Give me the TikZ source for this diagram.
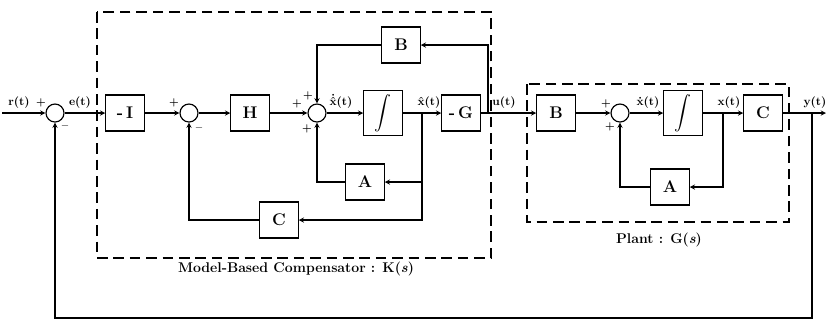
\documentclass[tikz,border=0pt]{standalone}
\usepackage{amsmath}
\usetikzlibrary{shapes,arrows,positioning,calc}

\begin{document}
\begin{tikzpicture}[
    x=0.03cm, y=-0.03cm,
    block/.style={rectangle, draw, line width=1pt, minimum width=1.15cm, minimum height=1.08cm, font=\Large\bfseries},
    sumnode/.style={circle, draw, line width=1pt, minimum size=0.54cm, inner sep=0pt},
    sig/.style={font=\normalsize\bfseries, inner sep=1pt, anchor=south},
    sgn/.style={font=\small\bfseries, inner sep=0.5pt},
    arrow/.style={->, >=stealth, line width=1pt},
    line/.style={line width=1pt},
    frame/.style={draw, line width=1.1pt, dash pattern=on 9pt off 5pt},
    caption/.style={font=\large\bfseries}
]
    \useasboundingbox (0,0) rectangle (826,325);

    % dashed frames
    \draw[frame] (97,12) rectangle (491,258);
    \draw[frame] (527,84) rectangle (789,222);
    \node[caption] (klabel) at (296,269) {Model-Based Compensator : K(\textit{s})};
    \node[caption] (glabel) at (659,240) {Plant : G(\textit{s})};

    % compensator
    \coordinate (in) at (2,113);
    \node[sumnode] (s1) at (55,113) {};
    \node[block] (negI) at (125,113) {-\,I};
    \node[sumnode] (s2) at (189,113) {};
    \node[block] (H) at (250,113) {H};
    \node[sumnode] (s3) at (317,113) {};
    \node[block] (intK) at (383,113) {$\displaystyle\int$};
    \node[block] (negG) at (461,113) {-\,G};
    \node[block] (Bk) at (401,45) {B};
    \node[block] (Ak) at (365,182) {A};
    \node[block] (Ck) at (279,220) {C};
    \coordinate (xk) at (422,113);
    \coordinate (uk) at (488,113);

    % plant
    \node[block] (Bp) at (556,113) {B};
    \node[sumnode] (s4) at (620,113) {};
    \node[block] (intP) at (683,113) {$\displaystyle\int$};
    \node[block] (Cp) at (763,113) {C};
    \node[block] (Ap) at (670,187) {A};
    \coordinate (xp) at (723,113);
    \coordinate (yb) at (812,113);
    \coordinate (out) at (826,113);
    \coordinate (fb) at (812,318);

    % main path
    \draw[arrow] (in) -- (s1);
    \draw[arrow] (s1) -- (negI);
    \draw[arrow] (negI) -- (s2);
    \draw[arrow] (s2) -- (H);
    \draw[arrow] (H) -- (s3);
    \draw[arrow] (s3) -- (intK);
    \draw[arrow] (intK) -- (negG);
    \draw[arrow] (negG) -- (Bp);
    \draw[arrow] (Bp) -- (s4);
    \draw[arrow] (s4) -- (intP);
    \draw[arrow] (intP) -- (Cp);
    \draw[arrow] (Cp) -- (out);

    % inner loops
    \draw[arrow] (xk) |- (Ck);
    \draw[arrow] (xk |- Ak) -- (Ak);
    \draw[arrow] (Ck) -| (s2);
    \draw[arrow] (Ak) -| (s3);
    \draw[arrow] (uk) |- (Bk);
    \draw[arrow] (Bk) -| (s3);
    \draw[arrow] (xp) |- (Ap);
    \draw[arrow] (Ap) -| (s4);

    % outer feedback
    \draw[arrow] (yb) -- (fb) -| (s1);

    % signal labels
    \node[sig] (rlab) at (19,110) {r(t)};
    \node[sig] (elab) at (80,110) {e(t)};
    \node[sig] (xdkl) at (341,110) {$\mathbf{\dot{\hat{x}}}$(t)};
    \node[sig] (xkl) at (429,110) {$\mathbf{\hat{x}}$(t)};
    \node[sig] (ulab) at (504,110) {u(t)};
    \node[sig] (xdpl) at (648,110) {$\mathbf{\dot{x}}$(t)};
    \node[sig] (xpl) at (729,110) {x(t)};
    \node[sig] (ylab) at (815,110) {y(t)};

    % signs
    \node[sgn] (p1) at (41,103) {+};
    \node[sgn] (m1) at (65,126) {$-$};
    \node[sgn] (p2) at (174,103) {+};
    \node[sgn] (m2) at (199,128) {$-$};
    \node[sgn] (p3a) at (297,104) {+};
    \node[sgn] (p3b) at (308,96) {+};
    \node[sgn] (p3c) at (307,129) {+};
    \node[sgn] (p4a) at (606,104) {+};
    \node[sgn] (p4b) at (610,127) {+};
\end{tikzpicture}
\end{document}
